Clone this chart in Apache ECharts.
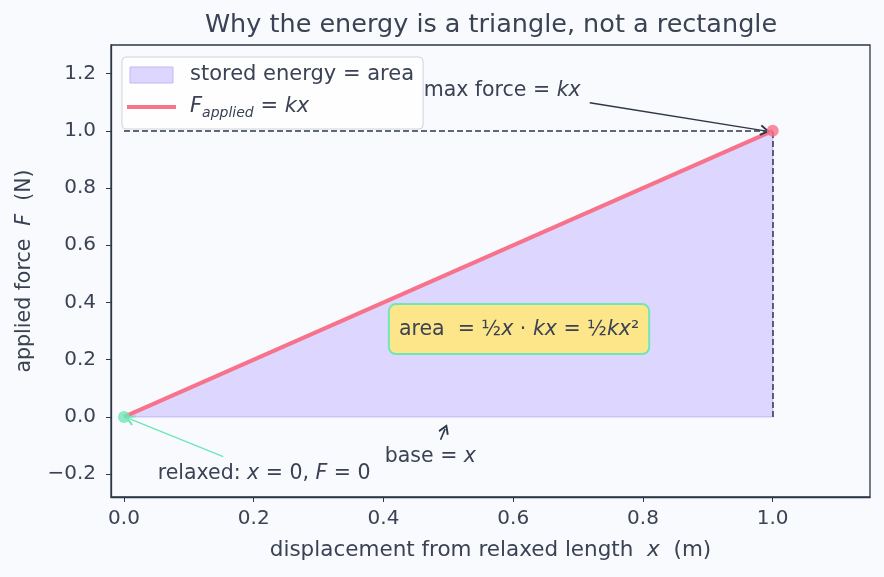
<!DOCTYPE html>
<html>
<head>
<meta charset="utf-8">
<script src="https://cdn.jsdelivr.net/npm/echarts@6/dist/echarts.min.js"></script>
<style>
  html, body { margin: 0; padding: 0; background: #f9fafd; }
  #chart { width: 884px; height: 577px; }
</style>
</head>
<body>
<div id="chart"></div>
<script>
// data
const displacement = [0, 1];
const force = [0, 1];
const triangle = [[0, 0], [1, 1], [1, 0]];
const xTicks = [0, 0.2, 0.4, 0.6, 0.8, 1.0];
const yTicks = [-0.2, 0, 0.2, 0.4, 0.6, 0.8, 1.0, 1.2];

const ink = "#3a4254";
const frame = "#2d3748";
const font = "DejaVu Sans";
// open "->" style arrow head, pointing up
const chevron = "path://M5,0 L10,7.5 L8.6,8.6 L5,3 L1.4,8.6 L0,7.5 Z";

const chart = echarts.init(document.getElementById("chart"));

const lineData = displacement.map((x, i) => [x, force[i]]);

const option = {
  backgroundColor: "#f9fafd",
  textStyle: { fontFamily: font, color: ink },
  title: {
    text: "Why the energy is a triangle, not a rectangle",
    left: 486,
    textAlign: "center",
    top: 7,
    textStyle: { fontFamily: font, fontSize: 25.5, fontWeight: "normal", color: ink },
  },
  grid: {
    left: 111, right: 14, top: 45, bottom: 80,
    show: true, borderColor: frame, borderWidth: 1.3, backgroundColor: "#f9fafd",
  },
  legend: {
    orient: "vertical",
    left: 122, top: 57,
    padding: [5, 9, 9, 5],
    itemWidth: 49, itemHeight: 16, itemGap: 6,
    symbolKeepAspect: true,
    backgroundColor: "rgba(255,255,255,0.8)",
    borderColor: "#cfd3da", borderWidth: 1, borderRadius: 4,
    textStyle: {
      fontFamily: font, fontSize: 21, color: ink, padding: [0, 0, 0, 9], lineHeight: 26,
      rich: {
        i: { fontFamily: font, fontStyle: "italic", fontSize: 21, color: ink, lineHeight: 26 },
        sub: { fontFamily: font, fontStyle: "italic", fontSize: 14, color: ink, lineHeight: 26, verticalAlign: "bottom" },
        n: { fontFamily: font, fontSize: 21, color: ink, lineHeight: 26 },
      },
    },
    data: [
      {
        name: "stored energy = area",
        icon: "path://M0,0H43V16H0Z",
        itemStyle: { color: "#ddd6fe", borderColor: "#c4b5fd", borderWidth: 1 },
      },
      {
        name: "F_applied = kx",
        icon: "path://M0,0H49V4H0Z",
        itemStyle: { color: "#f7728a", borderWidth: 0 },
      },
    ],
    formatter: (name) => name === "F_applied = kx" ? "{i|F}{sub|applied}{n| = }{i|kx}" : name,
  },
  xAxis: {
    type: "value", min: -0.02, max: 1.15,
    name: "displacement from relaxed length  {i|x}  (m)",
    nameLocation: "middle", nameGap: 42,
    nameTextStyle: {
      fontFamily: font, fontSize: 21.5, color: ink,
      rich: { i: { fontFamily: font, fontStyle: "italic", fontSize: 21.5, color: ink } },
    },
    splitLine: { show: false },
    axisLine: { show: true, onZero: false, lineStyle: { color: frame, width: 1.3 } },
    axisTick: { show: true, length: 5, lineStyle: { color: frame }, customValues: xTicks },
    axisLabel: {
      fontFamily: font, fontSize: 20, color: ink, margin: 12,
      customValues: xTicks, formatter: (v) => v.toFixed(1),
    },
  },
  yAxis: {
    type: "value", min: -0.28, max: 1.3,
    name: "applied force  {i|F}  (N)",
    nameLocation: "middle", nameGap: 76,
    nameTextStyle: {
      fontFamily: font, fontSize: 20.5, color: ink,
      rich: { i: { fontFamily: font, fontStyle: "italic", fontSize: 20.5, color: ink } },
    },
    splitLine: { show: false },
    axisLine: { show: true, onZero: false, lineStyle: { color: frame, width: 1.3 } },
    axisTick: { show: true, length: 5, lineStyle: { color: frame }, customValues: yTicks },
    axisLabel: {
      fontFamily: font, fontSize: 20, color: ink, margin: 15,
      customValues: yTicks, formatter: (v) => (v < 0 ? "\u2212" + Math.abs(v).toFixed(1) : v.toFixed(1)),
    },
  },
  series: [
    {
      name: "stored energy = area",
      type: "custom",
      data: triangle,
      encode: { x: 0, y: 1 },
      z: 1,
      itemStyle: { color: "#ddd6fe", borderColor: "#c4b5fd" },
      renderItem: (params, api) => {
        if (params.dataIndex !== 0) return null;
        const pts = triangle.map((p) => api.coord(p));
        return {
          type: "polygon",
          shape: { points: pts },
          style: { fill: "#ddd6fe", stroke: "#c4b5fd", lineWidth: 1 },
        };
      },
    },
    {
      name: "F_applied = kx",
      type: "line",
      data: lineData,
      symbol: "none",
      z: 3,
      lineStyle: { color: "#f7728a", width: 4 },
      itemStyle: { color: "#f7728a" },
      markLine: {
        silent: true,
        symbol: ["none", "none"],
        label: { show: false },
        lineStyle: { color: frame, width: 1.5, type: [6, 3] },
        data: [
          [{ coord: [0, 1] }, { coord: [1, 1] }],
          [{ coord: [1, 0] }, { coord: [1, 1] }],
        ],
      },
    },
    {
      // annotations
      name: "notes",
      type: "line",
      data: [],
      z: 4,
      markLine: {
        silent: true,
        symbol: ["none", chevron],
        symbolSize: [11, 10],
        label: { show: false },
        data: [
          [{ coord: [0.718, 1.098], lineStyle: { color: frame, width: 1.4, type: "solid" } }, { coord: [0.988, 1.0], itemStyle: { color: frame } }],
          [{ coord: [0.153, -0.139], lineStyle: { color: "#6ee7b7", width: 1.4, type: "solid" } }, { coord: [0.009, -0.007], itemStyle: { color: "#6ee7b7" } }],
          [{ coord: [0.488, -0.08], lineStyle: { color: frame, width: 1.6, type: "solid" } }, { coord: [0.495, -0.042], itemStyle: { color: frame } }],
        ],
      },
      markPoint: {
        silent: true,
        symbol: "circle",
        symbolSize: 0,
        label: {
          show: true, position: "right", distance: 0,
          fontFamily: font, fontSize: 20.5, color: ink,
          rich: {
            i: { fontFamily: font, fontStyle: "italic", fontSize: 20.5, color: ink },
          },
        },
        data: [
          { coord: [0.462, 1.139], label: { formatter: "max force = {i|kx}" } },
          { coord: [0.052, -0.199], label: { formatter: "relaxed: {i|x} = 0, {i|F} = 0" } },
          { coord: [0.402, -0.139], label: { formatter: "base = {i|x}" } },
          {
            coord: [0.609, 0.307],
            label: {
              position: "inside",
              formatter: "area  = ½{i|x} · {i|kx} = ½{i|kx}²",
              fontSize: 20.5,
              backgroundColor: "#fde68a",
              borderColor: "#6ee7b7",
              borderWidth: 2,
              borderRadius: 6,
              padding: [14, 9, 13, 9],
              rich: { i: { fontFamily: font, fontStyle: "italic", fontSize: 20.5, color: ink } },
            },
          },
        ],
      },
    },
    {
      name: "relaxed",
      type: "scatter",
      data: [lineData[0]],
      symbolSize: 12,
      z: 5,
      itemStyle: { color: "#6ee7b7" },
    },
    {
      name: "max",
      type: "scatter",
      data: [lineData[1]],
      symbolSize: 12,
      z: 5,
      itemStyle: { color: "#f7728a" },
    },
  ],
};

chart.setOption(option);
</script>
</body>
</html>
